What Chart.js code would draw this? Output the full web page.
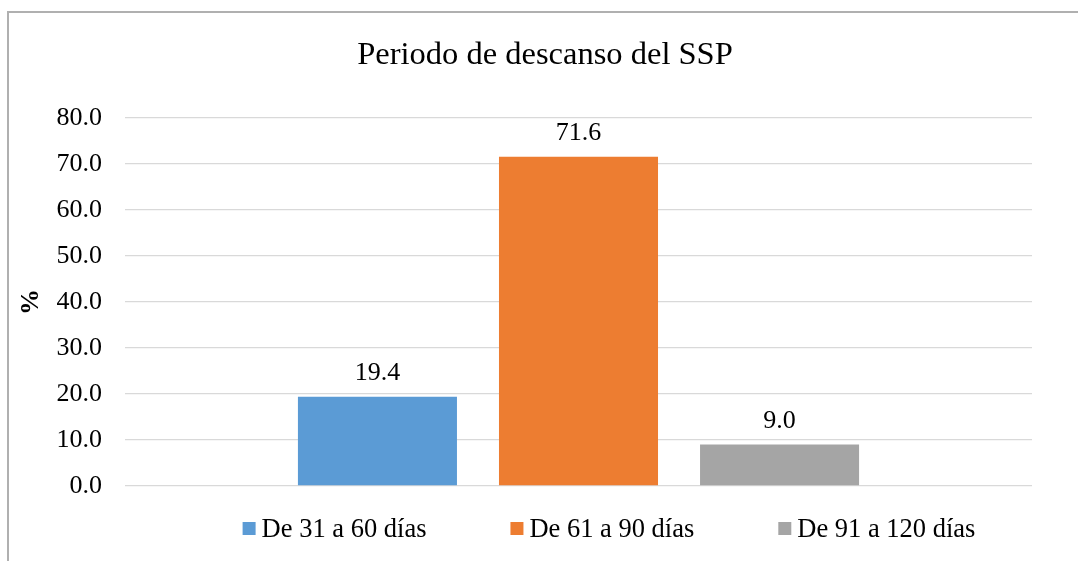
<!DOCTYPE html>
<html>
<head>
<meta charset="utf-8">
<script src="https://cdn.jsdelivr.net/npm/chart.js@4.4.0/dist/chart.umd.min.js"></script>
<style>
    html, body { margin: 0; padding: 0; background: #fff; overflow: hidden; }
    #frame { position: absolute; left: 7px; top: 11px; width: 1200px; height: 700px;
             border-left: 2px solid #b0b0b0; border-top: 2px solid #b0b0b0; }
    #wrap { position: absolute; left: 0; top: 0; width: 1078px; height: 561px; }
</style>
</head>
<body>
<div id="frame"></div>
<div id="wrap"><canvas id="chart"></canvas></div>
<script>
// datos del gráfico
const chartTitle = 'Periodo de descanso del SSP'
const categories = ['']
const seriesNames = ['De 31 a 60 días', 'De 61 a 90 días', 'De 91 a 120 días']
const seriesValues = [[19.4], [71.6], [9.0]]
const seriesColors = ['#5b9bd5', '#ed7d31', '#a5a5a5']
const yTicks = [0, 10, 20, 30, 40, 50, 60, 70, 80]

const FONT = "'Liberation Serif', 'Times New Roman', serif"

// título (centrado en el marco del gráfico, no en el canvas)
const topTitle = {
    id: 'topTitle',
    afterDraw(chart) {
        const ctx = chart.ctx
        ctx.save()
        ctx.font = '32.5px ' + FONT
        ctx.fillStyle = '#000'
        ctx.textAlign = 'center'
        ctx.textBaseline = 'alphabetic'
        ctx.fillText(chartTitle, 545, 63.5)
        ctx.restore()
    }
}

// etiquetas de valor encima de cada barra
const valueLabels = {
    id: 'valueLabels',
    afterDatasetsDraw(chart) {
        const ctx = chart.ctx
        ctx.save()
        ctx.font = '26px ' + FONT
        ctx.fillStyle = '#000'
        ctx.textAlign = 'center'
        ctx.textBaseline = 'alphabetic'
        chart.data.datasets.forEach((ds, i) => {
            chart.getDatasetMeta(i).data.forEach((bar, j) => {
                ctx.fillText(ds.data[j].toFixed(1), bar.x, bar.y - 17)
            })
        })
        ctx.restore()
    }
}

// leyenda inferior (estilo Excel)
const bottomLegend = {
    id: 'bottomLegend',
    afterDraw(chart) {
        const ctx = chart.ctx
        const box = 13, gap = 6, spacing = 84
        ctx.save()
        ctx.font = '26.5px ' + FONT
        ctx.textBaseline = 'alphabetic'
        ctx.textAlign = 'left'
        const items = chart.data.datasets.map(ds => ({
            label: ds.label, color: ds.backgroundColor, w: ctx.measureText(ds.label).width
        }))
        let total = 0
        items.forEach((it, i) => { total += box + gap + it.w + (i > 0 ? spacing : 0) })
        let x = 609 - total / 2
        const baseline = 537
        items.forEach(it => {
            ctx.fillStyle = it.color
            ctx.fillRect(x, baseline - 15, box, box)
            ctx.fillStyle = '#000'
            ctx.fillText(it.label, x + box + gap, baseline)
            x += box + gap + it.w + spacing
        })
        ctx.restore()
    }
}

const datasets = seriesNames.map((name, i) => ({
    label: name,
    data: seriesValues[i],
    backgroundColor: seriesColors[i],
    borderWidth: 0,
    categoryPercentage: 0.665,
    barPercentage: 0.791
}))

new Chart(document.getElementById('chart'), {
    type: 'bar',
    data: {labels: categories, datasets: datasets},
    plugins: [topTitle, valueLabels, bottomLegend],
    options: {
        responsive: true,
        maintainAspectRatio: false,
        animation: false,
        layout: {padding: {top: 118, left: 0, right: 46, bottom: 75}},
        plugins: {
            legend: {display: false},
            tooltip: {enabled: false},
            title: {display: false}
        },
        scales: {
            x: {display: false},
            y: {
                min: yTicks[0],
                max: yTicks[yTicks.length - 1],
                afterBuildTicks(scale) {
                    scale.ticks = yTicks.map(v => ({value: v}))
                },
                afterFit(scale) {
                    scale.width = 125
                },
                ticks: {
                    color: '#000',
                    font: {family: FONT, size: 26},
                    padding: 23,
                    callback: v => Number(v).toFixed(1)
                },
                grid: {color: '#d9d9d9', lineWidth: 1.3, drawTicks: false},
                border: {display: false},
                title: {
                    display: true,
                    text: '%',
                    color: '#000',
                    font: {family: FONT, size: 26, weight: 'bold'},
                    padding: {top: 16, bottom: 0}
                }
            }
        }
    }
})
</script>
</body>
</html>
